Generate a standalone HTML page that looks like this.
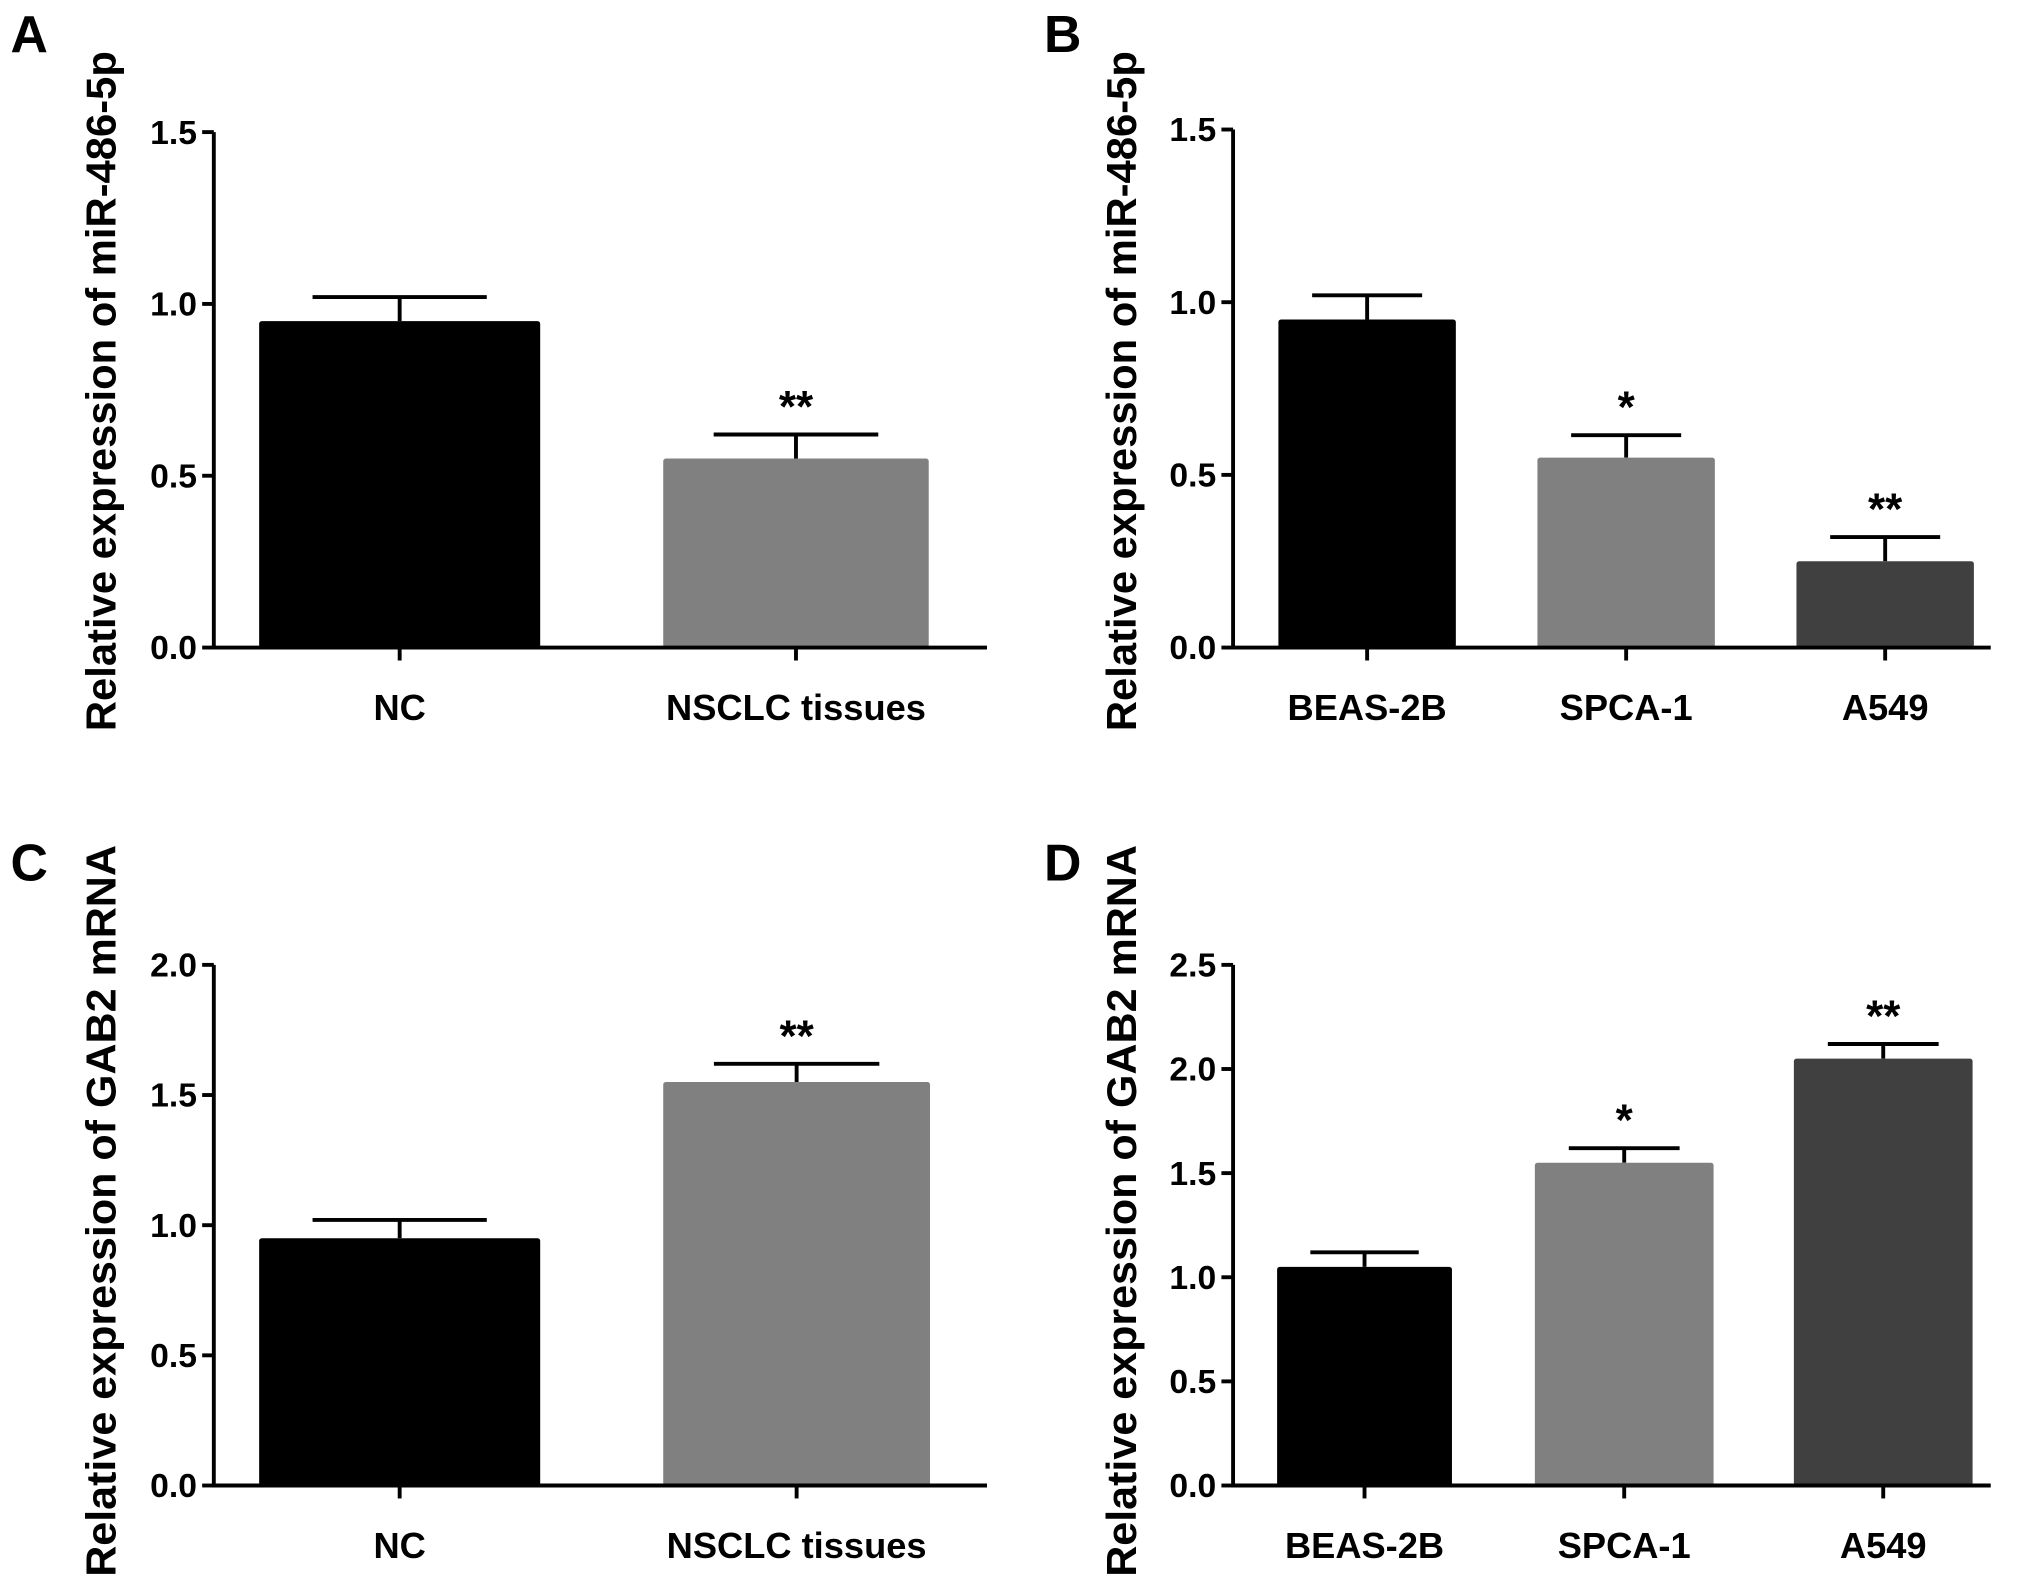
<!DOCTYPE html>
<html><head><meta charset="utf-8"><style>
html,body{margin:0;padding:0;background:#fff;}
svg{display:block;}
text{font-family:"Liberation Sans",Arial,sans-serif;font-weight:bold;fill:#000;}
</style></head><body>
<svg id="fig" width="2031" height="1593" viewBox="0 0 1568 1230" xmlns="http://www.w3.org/2000/svg"></svg>
<script>
const catsA = ["NC", "NSCLC tissues"];
const valsA = [0.95, 0.55];
const errA = [0.07, 0.07];
const sigA = ["", "**"];
const ticksA = ["0.0", "0.5", "1.0", "1.5"];

const catsB = ["BEAS-2B", "SPCA-1", "A549"];
const valsB = [0.95, 0.55, 0.25];
const errB = [0.07, 0.065, 0.07];
const sigB = ["", "*", "**"];
const ticksB = ["0.0", "0.5", "1.0", "1.5"];

const catsC = ["NC", "NSCLC tissues"];
const valsC = [0.95, 1.55];
const errC = [0.07, 0.07];
const sigC = ["", "**"];
const ticksC = ["0.0", "0.5", "1.0", "1.5", "2.0"];

const catsD = ["BEAS-2B", "SPCA-1", "A549"];
const valsD = [1.05, 1.55, 2.05];
const errD = [0.07, 0.07, 0.07];
const sigD = ["", "*", "**"];
const ticksD = ["0.0", "0.5", "1.0", "1.5", "2.0", "2.5"];

const NS = "http://www.w3.org/2000/svg";
const svg = document.getElementById("fig");
function mk(tag, attrs, parent) {
  const e = document.createElementNS(NS, tag);
  for (const k in attrs) e.setAttribute(k, attrs[k]);
  (parent || svg).appendChild(e);
  return e;
}

function panel(cfg) {
  const g = mk("g", {});
  
  
  const tickVals = cfg.ticks.map(Number);
  const ymax = tickVals[tickVals.length - 1];
  const y = v => cfg.y0 - (v / ymax) * (cfg.y0 - cfg.yTop);

  const lbl = mk("text", {x: cfg.letterX, y: cfg.letterY, "font-size": 40}, g);
  lbl.textContent = cfg.letter;
  
  

  const yt = mk("text", {x: 0, y: 0, "font-size": 32, "text-anchor": "middle",
    textLength: cfg.titleLen, lengthAdjust: "spacingAndGlyphs",
    transform: "translate(" + cfg.titleX + "," + cfg.titleY + ") rotate(-90)"}, g);
  yt.textContent = cfg.title;
  
  

  cfg.vals.forEach((v, i) => {
    const x0 = cfg.barX[i], w = cfg.barW[i];
    const cx = x0 + w / 2;
    const top = y(v), et = y(v + cfg.err[i]);
    const el = mk("line", {x1: cx, x2: cx, y1: top, y2: et, stroke: "#000", "stroke-width": 3}, g);
    
    
    const cap = mk("line", {x1: cx - w * 0.31, x2: cx + w * 0.31, y1: et, y2: et, stroke: "#000", "stroke-width": 3}, g);
    
    
    const r = mk("rect", {x: x0, y: top, width: w, height: cfg.y0 - top, fill: cfg.colors[i], rx: 2}, g);
    
    
    if (cfg.sig[i]) {
      const s = mk("text", {x: cx, y: et - 10, "font-size": 34, "text-anchor": "middle"}, g);
      s.textContent = cfg.sig[i];
      
      
    }
    const tk = mk("line", {x1: cx, x2: cx, y1: cfg.y0, y2: cfg.y0 + 10, stroke: "#000", "stroke-width": 3}, g);
    
    
    const cl = mk("text", {x: cx, y: cfg.y0 + 56, "font-size": 28, "text-anchor": "middle"}, g);
    cl.textContent = cfg.cats[i];
    
    
  });

  const ya = mk("line", {x1: cfg.ax, x2: cfg.ax, y1: cfg.yTop, y2: cfg.y0 + 1.5, stroke: "#000", "stroke-width": 3}, g);
  
  
  const xa = mk("line", {x1: cfg.ax - 1.5, x2: cfg.axEnd, y1: cfg.y0, y2: cfg.y0, stroke: "#000", "stroke-width": 3}, g);
  
  
  cfg.ticks.forEach((t, i) => {
    const yy = y(tickVals[i]);
    const tl = mk("line", {x1: cfg.ax - 9, x2: cfg.ax, y1: yy, y2: yy, stroke: "#000", "stroke-width": 3}, g);
    
    
    const tt = mk("text", {x: cfg.ax - 13, y: yy + 9, "font-size": 26, "text-anchor": "end"}, g);
    tt.textContent = t;
    
    
  });
}

panel({letter: "A", letterX: 8, letterY: 40, title: "Relative expression of miR-486-5p", titleX: 89, titleY: 302, titleLen: 525,
  ax: 165, axEnd: 762, yTop: 102, y0: 500, barX: [200, 512], barW: [217, 205],
  cats: catsA, vals: valsA, err: errA, sig: sigA, ticks: ticksA, colors: ["#000000", "#808080"]});
panel({letter: "B", letterX: 806, letterY: 40, title: "Relative expression of miR-486-5p", titleX: 877, titleY: 302, titleLen: 525,
  ax: 952, axEnd: 1537, yTop: 100, y0: 500, barX: [987, 1187, 1387], barW: [137, 137, 137],
  cats: catsB, vals: valsB, err: errB, sig: sigB, ticks: ticksB, colors: ["#000000", "#808080", "#404040"]});
panel({letter: "C", letterX: 8, letterY: 680, title: "Relative expression of GAB2 mRNA", titleX: 89, titleY: 935, titleLen: 565,
  ax: 165, axEnd: 762, yTop: 745, y0: 1147, barX: [200, 512], barW: [217, 206],
  cats: catsC, vals: valsC, err: errC, sig: sigC, ticks: ticksC, colors: ["#000000", "#808080"]});
panel({letter: "D", letterX: 806, letterY: 680, title: "Relative expression of GAB2 mRNA", titleX: 877, titleY: 935, titleLen: 565,
  ax: 952, axEnd: 1537, yTop: 745, y0: 1147, barX: [986, 1185, 1385], barW: [135, 138, 138],
  cats: catsD, vals: valsD, err: errD, sig: sigD, ticks: ticksD, colors: ["#000000", "#808080", "#404040"]});
</script>
</body></html>
